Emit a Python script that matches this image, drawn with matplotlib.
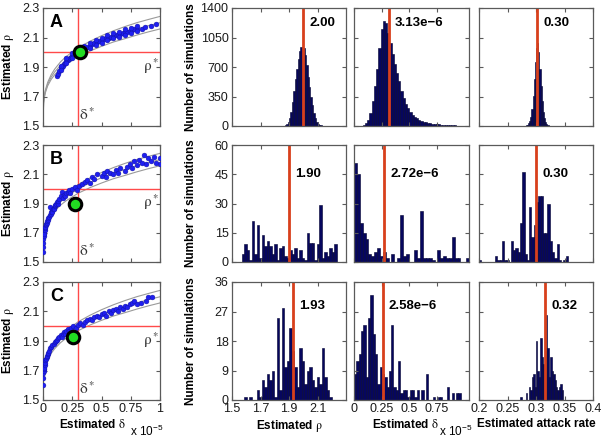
import matplotlib
matplotlib.use('AGG')

import matplotlib.pyplot as plt
import numpy as np

plt.rcParams['font.family'] = ['Liberation Sans', 'DejaVu Sans']
plt.rcParams['mathtext.fontset'] = 'stix'

# ---- true parameters (delta in units of 1e-5) ----
delta_true = 0.3
rho_true = 2.0

# ---- model curves, left column ----
curve_delta = [0, 0.005, 0.01, 0.02, 0.04, 0.07, 0.1, 0.15, 0.2, 0.3, 0.4,
               0.5, 0.6, 0.7, 0.8, 0.9, 1.0]
curve_upper = [1.5, 1.665, 1.70, 1.743, 1.796, 1.848, 1.886, 1.935, 1.972,
               2.03, 2.074, 2.112, 2.145, 2.174, 2.2, 2.222, 2.243]
curve_mid = [1.5, 1.659, 1.693, 1.734, 1.784, 1.832, 1.867, 1.912, 1.946,
             2.0, 2.041, 2.076, 2.107, 2.133, 2.158, 2.18, 2.2]
curve_lower = [1.5, 1.653, 1.686, 1.725, 1.772, 1.816, 1.848, 1.889, 1.92,
               1.97, 2.008, 2.04, 2.069, 2.092, 2.116, 2.138, 2.158]

# ---- scatter of estimates ----
a_delta = [0.12, 0.13, 0.14, 0.15, 0.16, 0.17, 0.18, 0.19, 0.20, 0.21, 0.22,
           0.23, 0.24, 0.25, 0.26, 0.27, 0.28, 0.30, 0.32, 0.34, 0.36, 0.38,
           0.40, 0.42, 0.44, 0.46, 0.48, 0.50, 0.52, 0.54, 0.56, 0.58, 0.60,
           0.62, 0.64, 0.66, 0.68, 0.70, 0.72, 0.74, 0.76, 0.78, 0.80,
           0.15, 0.20, 0.25, 0.30, 0.35, 0.40, 0.45, 0.50, 0.55, 0.60, 0.65,
           0.70, 0.75, 0.80,
           0.15, 0.20, 0.25, 0.30, 0.35, 0.40, 0.45, 0.50, 0.55, 0.60, 0.65,
           0.70, 0.75, 0.80,
           0.85, 0.87, 0.92, 0.97]
a_rho = [1.84, 1.85, 1.87, 1.89, 1.90, 1.91, 1.92, 1.93, 1.94, 1.95, 1.955,
         1.96, 1.97, 1.975, 1.98, 1.985, 1.99, 2.0, 2.01, 2.02, 2.03, 2.035,
         2.045, 2.055, 2.06, 2.07, 2.075, 2.08, 2.09, 2.095, 2.10, 2.105, 2.11,
         2.115, 2.12, 2.125, 2.13, 2.135, 2.14, 2.145, 2.15, 2.155, 2.16,
         1.91, 1.96, 1.995, 2.02, 2.04, 2.06, 2.08, 2.10, 2.115, 2.13, 2.14,
         2.155, 2.165, 2.175,
         1.88, 1.93, 1.96, 1.985, 2.01, 2.03, 2.05, 2.065, 2.08, 2.095, 2.105,
         2.12, 2.13, 2.145,
         2.16, 2.17, 2.18, 2.19]

b_delta = [0.0, 0.0, 0.0, 0.003, 0.005, 0.007, 0.009, 0.011, 0.013, 0.016,
           0.02, 0.024, 0.028, 0.032, 0.036, 0.04, 0.045, 0.05, 0.058, 0.06,
           0.065, 0.07, 0.075, 0.08, 0.085, 0.09, 0.095, 0.1, 0.105, 0.11,
           0.12, 0.125, 0.13, 0.14, 0.15, 0.16, 0.17, 0.18, 0.19, 0.2,
           0.21, 0.22, 0.23, 0.25, 0.27, 0.29, 0.31, 0.33, 0.36, 0.38,
           0.4, 0.42, 0.44, 0.46, 0.5, 0.52, 0.54, 0.55, 0.57, 0.6,
           0.62, 0.64, 0.66, 0.7, 0.72, 0.74, 0.76, 0.78, 0.8, 0.82,
           0.85, 0.86, 0.88, 0.9, 0.92, 0.95, 0.97, 1.0, 1.0]
b_rho = [1.57, 1.60, 1.63, 1.66, 1.68, 1.70, 1.71, 1.69, 1.72, 1.73,
         1.74, 1.75, 1.76, 1.77, 1.78, 1.79, 1.80, 1.81, 1.878, 1.82,
         1.83, 1.84, 1.85, 1.84, 1.86, 1.87, 1.86, 1.88, 1.89, 1.90,
         1.91, 1.90, 1.92, 1.93, 1.95, 1.976, 1.94, 1.96, 1.95, 1.97,
         1.98, 1.99, 1.97, 2.0, 2.01, 1.99, 2.02, 2.03, 2.05, 2.06,
         2.04, 2.08, 2.07, 2.1, 2.09, 2.11, 2.08, 2.12, 2.106, 2.1,
         2.13, 2.11, 2.14, 2.12, 2.15, 2.17, 2.14, 2.19, 2.16, 2.2,
         2.18, 2.23, 2.17, 2.21, 2.19, 2.22, 2.18, 2.21, 2.17]

c_delta = [0.0, 0.002, 0.004, 0.006, 0.008, 0.01, 0.013, 0.016, 0.02, 0.025,
           0.03, 0.035, 0.04, 0.045, 0.05, 0.06, 0.07, 0.08, 0.09, 0.1,
           0.11, 0.12, 0.13, 0.14, 0.15, 0.16, 0.17, 0.18, 0.19, 0.2,
           0.21, 0.22, 0.24, 0.26, 0.28, 0.3, 0.32, 0.34, 0.36, 0.38,
           0.4, 0.42, 0.44, 0.46, 0.48, 0.5, 0.52, 0.54, 0.56, 0.58,
           0.6, 0.62, 0.64, 0.66, 0.68, 0.7, 0.72, 0.74, 0.76, 0.78,
           0.8, 0.84, 0.88, 0.9, 0.93]
c_rho = [1.60, 1.65, 1.68, 1.70, 1.71, 1.72, 1.74, 1.75, 1.77, 1.78,
         1.79, 1.80, 1.81, 1.82, 1.83, 1.85, 1.86, 1.87, 1.88, 1.89,
         1.90, 1.91, 1.92, 1.93, 1.94, 1.93, 1.95, 1.96, 1.95, 1.97,
         1.98, 1.97, 1.99, 2.0, 1.99, 2.01, 2.02, 2.01, 2.03, 2.04,
         2.05, 2.04, 2.06, 2.07, 2.06, 2.08, 2.09, 2.07, 2.1, 2.09,
         2.11, 2.12, 2.1, 2.13, 2.12, 2.14, 2.13, 2.15, 2.16, 2.17,
         2.15, 2.16, 2.17, 2.2, 2.2]

# ---- estimates (red lines in histograms, green dots) ----
rho_est = [2.00, 1.90, 1.93]
delta_est = [0.313, 0.272, 0.258]
attack_est = [0.302, 0.300, 0.316]
rho_text = ['2.00', '1.90', '1.93']
delta_text = ['3.13e\u22126', '2.72e\u22126', '2.58e\u22126']
attack_text = ['0.30', '0.30', '0.32']

# ---- histograms: (first bin left edge, bin width, counts) ----
rho_a = (1.84, 0.01, [2, 3, 5, 10, 20, 45, 90, 170, 290, 420, 560, 680, 800,
                      890, 935, 940, 920, 840, 720, 580, 460, 350, 250, 160,
                      95, 50, 25, 12, 6, 3, 2, 1])
rho_b = (1.5, 0.0175, [0, 0, 0, 0, 4, 9, 6, 1, 21, 4, 19, 2, 14, 8, 11, 8, 4,
                       9, 1, 7, 8, 3, 2, 6, 4, 7, 2, 6, 2, 1, 15, 10, 10, 1,
                       9, 29, 2, 5, 3, 7, 5, 9])
rho_c = (1.5, 0.0175, [0, 0, 0, 0, 0, 1, 0, 1, 0, 0, 3, 1, 6, 4, 8, 6, 9, 1,
                       25, 3, 28, 10, 12, 22, 15, 10, 4, 16, 12, 5, 9, 10, 6,
                       4, 7, 5, 16, 7, 3, 1])

delta_a = (0.06, 0.02, [3, 10, 30, 70, 160, 300, 480, 680, 920, 1150, 1250,
                        1220, 1100, 980, 860, 740, 630, 530, 420, 330, 260,
                        210, 170, 135, 110, 90, 75, 62, 52, 44, 38, 33, 28,
                        25, 22, 19, 17, 14, 12, 10, 9, 7, 6, 5, 4, 3, 2, 1])
delta_b = (0.0, 0.026, [51, 45, 20, 15, 12, 4, 3, 5, 7, 3, 5, 2, 0, 4, 0, 2,
                        24, 3, 4, 0, 0, 6, 2, 26, 2, 2, 2, 1, 0, 6, 2, 3, 2,
                        2, 13, 2, 2, 0, 0, 2])
delta_c = (0.0, 0.021, [8, 12, 14, 21, 23, 7, 25, 32, 20, 14, 5, 10, 8, 7, 4,
                        9, 23, 4, 3, 12, 2, 3, 3, 1, 3, 3, 1, 3, 0, 3, 0, 8,
                        0, 0, 1, 0, 1, 1, 0, 0, 4, 0, 2, 0, 2, 2])

attack_a = (0.28, 0.002, [3, 8, 15, 30, 55, 110, 200, 360, 560, 760, 930, 980,
                          880, 680, 470, 300, 170, 90, 45, 22, 10, 5, 3, 1])
attack_b = (0.2, 0.004, [1, 0, 0, 0, 0, 0, 0, 3, 1, 1, 11, 1, 1, 0, 11, 6, 7,
                         5, 20, 46, 4, 1, 28, 13, 19, 31, 34, 34, 15, 15, 30,
                         11, 5, 2, 9, 1, 0, 1, 3])
attack_c = (0.2, 0.0025, [0] * 29 + [1, 0, 0, 0, 2, 0, 4, 3, 7, 8, 4, 18, 9,
                                     7, 19, 13, 11, 15, 26, 16, 7, 13, 9, 8,
                                     6, 4, 3, 4, 5, 3])

hist_ylim = [1400, 60, 36]
hist_yticks = [[0, 350, 700, 1050, 1400], [0, 15, 30, 45, 60],
               [0, 9, 18, 27, 36]]
letters = ['A', 'B', 'C']

FRAME = '#5a5a5a'
RED_L = '#ff4a4a'
RED_H = '#d8401c'
BAR = '#06065e'

RHO = r'$\mathrm{\rho}$'
DELTA = r'$\mathrm{\delta}$'


def style(ax):
    for s in ax.spines.values():
        s.set_color(FRAME)
        s.set_linewidth(0.9)
    ax.tick_params(direction='in', length=3, top=True, right=True,
                   color=FRAME, labelsize=9, labelcolor='#1a1a1a', pad=2.5)


def draw_hist(ax, h):
    start, width, counts = h
    centers = start + width * (np.arange(len(counts)) + 0.5)
    ax.bar(centers, counts, width=width, color=BAR, edgecolor='#000030',
           linewidth=0.4)


fig = plt.figure(figsize=(6.05, 4.42), dpi=100)
W, H = 605.0, 442.0
rows_px = [(8, 126), (145, 262), (282, 400)]
cols_px = [(43, 160), (232, 346), (354, 469), (479, 593)]


def make_ax(r, c):
    t, b = rows_px[r]
    l, rr = cols_px[c]
    return fig.add_axes([l / W, 1 - b / H, (rr - l) / W, (b - t) / H])


scat = [(a_delta, a_rho), (b_delta, b_rho), (c_delta, c_rho)]
rho_h = [rho_a, rho_b, rho_c]
delta_h = [delta_a, delta_b, delta_c]
attack_h = [attack_a, attack_b, attack_c]

XL_Y = -0.155

for r in range(3):
    bottom = (r == 2)

    # ---- left column: rho vs delta ----
    ax = make_ax(r, 0)
    style(ax)
    for cv in (curve_upper, curve_mid, curve_lower):
        ax.plot(curve_delta, cv, color='#9a9a9a', lw=0.8, zorder=1)
    ax.axvline(delta_true, color=RED_L, lw=1, zorder=2)
    ax.axhline(rho_true, color=RED_L, lw=1, zorder=2)
    ax.plot(scat[r][0], scat[r][1], 'o', color='#1f1ff0', mec='#1010a0',
            mew=0.3, ms=3.5, zorder=3)
    ax.plot(delta_est[r], rho_est[r], 'o', ms=9, mfc='#22dd22', mec='black',
            mew=2.2, zorder=4)
    ax.text(delta_true + 0.01, 1.52, r'$\mathrm{\delta}^*$', fontsize=11,
            ha='left', va='bottom', color='#333333')
    ax.text(0.99, 1.975, r'$\mathrm{\rho}^*$', fontsize=11, ha='right',
            va='top', color='#333333')
    ax.text(0.06, 0.95, letters[r], transform=ax.transAxes, fontsize=13,
            fontweight='bold', va='top', ha='left')
    ax.set_xlim(0, 1)
    ax.set_ylim(1.5, 2.3)
    ax.set_yticks([1.5, 1.7, 1.9, 2.1, 2.3])
    ax.set_yticklabels(['1.5', '1.7', '1.9', '2.1', '2.3'])
    ax.set_xticks([0, 0.25, 0.5, 0.75, 1])
    ax.set_ylabel('Estimated ' + RHO, fontsize=8.5, fontweight='bold')
    ax.yaxis.set_label_coords(-0.235, 0.5)
    if bottom:
        ax.set_xticklabels(['0', '0.25', '0.5', '0.75', '1'])
        ax.set_xlabel('Estimated ' + DELTA, fontsize=8.5, fontweight='bold')
        ax.xaxis.set_label_coords(0.42, XL_Y)
        ax.text(1.03, -0.27, r'x $\mathregular{10^{-5}}$',
                transform=ax.transAxes, ha='right', va='center', fontsize=8.5)
    else:
        ax.set_xticklabels([])

    # ---- rho histogram ----
    ax2 = make_ax(r, 1)
    style(ax2)
    draw_hist(ax2, rho_h[r])
    ax2.axvline(rho_est[r], color=RED_H, lw=2)
    ax2.set_xlim(1.5, 2.3)
    ax2.set_xticks([1.5, 1.7, 1.9, 2.1])
    ax2.set_ylim(0, hist_ylim[r])
    ax2.set_yticks(hist_yticks[r])
    ax2.set_ylabel('Number of simulations', fontsize=8.5, fontweight='bold')
    ax2.yaxis.set_label_coords(-0.31, 0.5)

    # ---- delta histogram ----
    ax3 = make_ax(r, 2)
    style(ax3)
    draw_hist(ax3, delta_h[r])
    ax3.axvline(delta_est[r], color=RED_H, lw=2)
    ax3.set_xlim(0, 1.04)
    ax3.set_xticks([0, 0.25, 0.5, 0.75])
    ax3.set_ylim(0, hist_ylim[r])
    ax3.set_yticks(hist_yticks[r])
    ax3.set_yticklabels([])

    # ---- attack rate histogram ----
    ax4 = make_ax(r, 3)
    style(ax4)
    draw_hist(ax4, attack_h[r])
    ax4.axvline(attack_est[r], color=RED_H, lw=2)
    ax4.set_xlim(0.2, 0.4)
    ax4.set_xticks([0.2, 0.25, 0.3, 0.35, 0.4])
    ax4.set_ylim(0, hist_ylim[r])
    ax4.set_yticks(hist_yticks[r])
    ax4.set_yticklabels([])

    yfrac = [0.87, 0.75, 0.80][r]
    for a, xv, s in ((ax2, rho_est[r], rho_text[r]),
                     (ax3, delta_est[r], delta_text[r]),
                     (ax4, attack_est[r], attack_text[r])):
        a.annotate(s, xy=(xv, yfrac), xycoords=('data', 'axes fraction'),
                   xytext=(4.5, 0), textcoords='offset points', ha='left',
                   va='center', fontsize=9.5, fontweight='bold')

    if bottom:
        ax2.set_xticklabels(['1.5', '1.7', '1.9', '2.1'])
        ax2.set_xlabel('Estimated ' + RHO, fontsize=8.5, fontweight='bold')
        ax2.xaxis.set_label_coords(0.5, XL_Y)
        ax3.set_xticklabels(['0', '0.25', '0.5', '0.75'])
        ax3.set_xlabel('Estimated ' + DELTA, fontsize=8.5, fontweight='bold')
        ax3.xaxis.set_label_coords(0.45, XL_Y)
        ax3.text(1.03, -0.27, r'x $\mathregular{10^{-5}}$',
                 transform=ax3.transAxes, ha='right', va='center', fontsize=8.5)
        ax4.set_xticklabels(['0.2', '0.25', '0.3', '0.35', '0.4'])
        ax4.set_xlabel('Estimated attack rate', fontsize=8.5, fontweight='bold')
        ax4.xaxis.set_label_coords(0.5, XL_Y)
    else:
        ax2.set_xticklabels([])
        ax3.set_xticklabels([])
        ax4.set_xticklabels([])

fig.savefig('out.png', dpi=100)
plt.close('all')
